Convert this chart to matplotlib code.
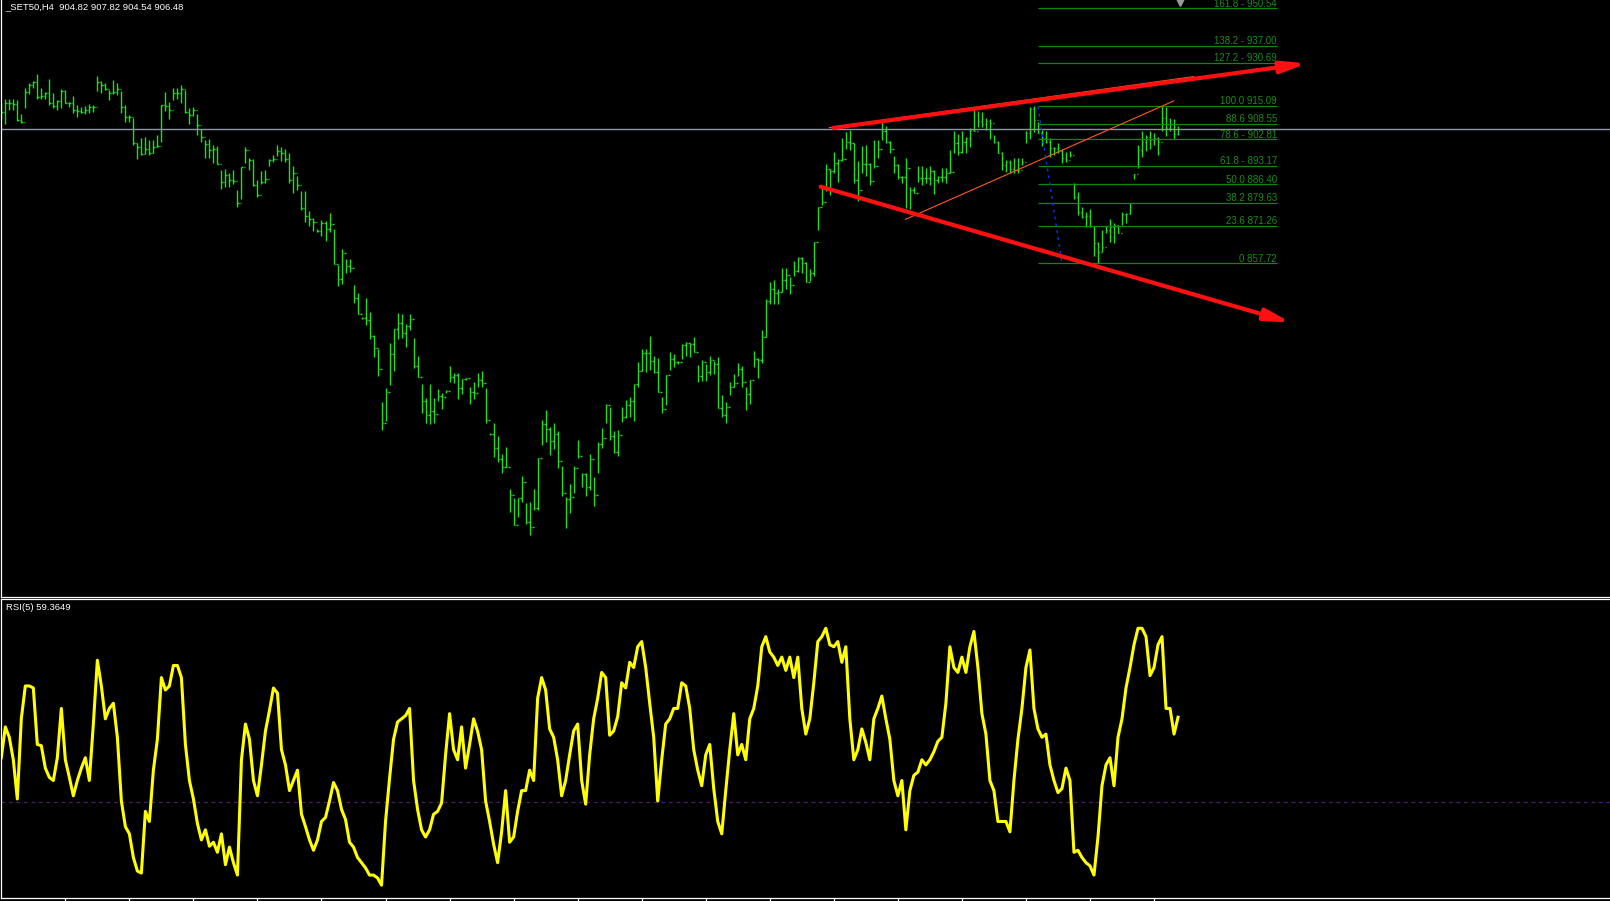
import matplotlib.pyplot as plt
import numpy as np

plt.rcParams['font.family'] = ['Liberation Sans', 'DejaVu Sans']

header_text = '_SET50,H4  904.82 907.82 904.54 906.48'
rsi_title = 'RSI(5) 59.3649'
last_open = 904.82
bid_price = 906.48

# H4 bars (oldest first)
highs = [916.2, 917.4, 917.7, 917.7, 917.1, 912.0, 921.7, 923.2, 924.1, 926.8,
         921.4, 920.2, 924.8, 919.6, 917.1, 921.0, 920.8, 916.5, 918.6, 915.2,
         914.7, 915.1, 915.6, 915.3, 926.0, 924.2, 923.2, 920.8, 924.4, 923.4,
         920.4, 915.3, 911.7, 910.5, 901.6, 903.2, 903.8, 902.6, 902.6, 904.4,
         915.3, 920.0, 916.5, 921.4, 921.4, 922.6, 920.8, 914.3, 914.7, 912.0,
         906.6, 902.6, 902.8, 900.7, 900.4, 891.6, 891.9, 890.4, 891.6, 884.4,
         892.6, 900.1, 896.1, 895.5, 888.2, 891.4, 891.6, 895.5, 897.3, 900.6,
         899.9, 899.2, 897.7, 893.1, 889.4, 884.0, 884.0, 876.7, 874.1, 870.0,
         873.5, 873.1, 875.9, 870.1, 857.1, 862.8, 859.1, 859.1, 849.8, 846.7,
         838.2, 844.9, 840.1, 831.6, 826.3, 807.0, 812.1, 828.5, 833.6, 839.5,
         839.1, 835.6, 839.1, 830.3, 823.9, 813.7, 808.5, 813.7, 808.5, 811.8,
         810.6, 811.4, 820.3, 817.8, 817.8, 815.5, 815.9, 812.5, 814.3, 817.6,
         818.5, 812.1, 795.8, 799.4, 794.8, 788.2, 790.9, 775.3, 772.3, 772.1,
         780.2, 770.5, 770.8, 775.3, 786.6, 800.6, 804.2, 797.9, 799.4, 796.6,
         783.8, 772.4, 777.3, 783.8, 793.3, 781.4, 781.2, 788.2, 779.7, 792.4,
         797.6, 806.4, 805.2, 796.6, 796.9, 805.2, 807.9, 808.9, 813.6, 821.8,
         826.3, 826.3, 831.2, 823.9, 823.1, 808.9, 817.0, 825.3, 824.6, 822.0,
         828.3, 828.9, 828.5, 831.0, 820.6, 822.5, 821.0, 823.9, 822.2, 823.4,
         809.7, 807.3, 814.6, 817.3, 821.2, 820.3, 812.5, 815.2, 825.7, 823.1,
         833.4, 844.6, 851.0, 851.6, 848.2, 855.8, 855.8, 852.6, 858.5, 860.1,
         860.1, 858.3, 855.5, 865.3, 878.1, 885.0, 893.7, 891.9, 898.3, 895.7,
         903.4, 905.4, 906.2, 901.4, 894.9, 900.4, 900.8, 894.3, 902.6, 902.6,
         910.0, 907.7, 902.3, 896.8, 893.8, 889.5, 895.9, 885.3, 885.3, 893.1,
         893.1, 892.3, 893.1, 891.7, 889.5, 892.3, 892.3, 898.9, 906.0, 904.8,
         906.0, 903.8, 906.8, 913.5, 913.3, 912.9, 910.5, 910.1, 904.4, 902.3,
         898.3, 895.3, 895.3, 895.9, 895.9, 895.9, 906.0, 914.5, 915.1, 909.3,
         906.2, 906.0, 903.2, 899.9, 901.6, 899.2, 898.3, 898.7, 886.8, 883.8,
         878.3, 876.5, 877.3, 871.3, 865.6, 869.8, 871.3, 874.0, 872.2, 871.6,
         876.5, 875.9, 879.8, 890.2, 900.8, 906.0, 904.4, 906.0, 905.0, 903.8,
         915.0, 914.7, 910.5, 910.3, 907.82]
lows = [910.3, 908.6, 913.5, 913.5, 909.6, 908.9, 914.1, 919.2, 921.7, 917.6,
        917.6, 917.6, 915.3, 914.1, 913.7, 914.1, 915.9, 914.7, 912.6, 910.8,
        912.3, 911.9, 912.5, 912.9, 920.5, 919.9, 920.8, 917.1, 919.2, 919.0,
        912.6, 909.0, 909.2, 900.7, 895.6, 897.1, 897.5, 897.1, 897.7, 900.1,
        902.0, 913.2, 910.3, 917.1, 917.4, 916.2, 912.6, 908.6, 911.3, 904.4,
        902.0, 896.2, 896.2, 894.1, 893.7, 884.6, 885.6, 885.3, 886.5, 878.3,
        881.0, 894.1, 891.6, 885.8, 881.7, 886.5, 886.8, 893.1, 894.7, 896.7,
        895.0, 894.7, 887.0, 883.4, 884.4, 877.0, 872.9, 871.4, 869.4, 869.0,
        867.8, 865.9, 869.2, 857.3, 849.5, 850.0, 854.0, 854.6, 843.1, 839.1,
        837.4, 835.2, 830.0, 823.7, 816.6, 796.9, 800.4, 813.4, 818.6, 830.1,
        830.3, 827.3, 833.4, 819.7, 816.4, 803.0, 799.6, 799.0, 799.6, 807.6,
        804.5, 810.6, 814.6, 814.2, 808.4, 809.9, 815.0, 806.3, 808.1, 812.5,
        812.7, 799.4, 795.2, 787.2, 785.4, 781.2, 783.4, 767.2, 762.3, 765.4,
        770.8, 762.7, 758.7, 767.8, 767.8, 791.5, 792.7, 787.8, 789.9, 783.2,
        773.0, 761.1, 766.8, 773.9, 786.9, 776.1, 773.0, 775.1, 769.4, 781.4,
        790.5, 799.6, 793.3, 788.7, 787.6, 800.0, 801.2, 801.6, 800.3, 812.7,
        818.4, 818.2, 818.8, 817.8, 810.9, 803.0, 806.1, 818.8, 820.0, 821.1,
        822.8, 823.9, 823.7, 825.5, 814.6, 814.8, 814.9, 817.0, 817.3, 804.8,
        801.6, 799.4, 809.7, 812.5, 816.6, 812.5, 804.2, 806.4, 820.0, 816.0,
        821.5, 830.9, 842.9, 842.7, 842.7, 847.3, 848.2, 846.4, 853.2, 854.6,
        854.3, 851.0, 851.2, 853.1, 869.8, 878.9, 884.1, 882.6, 890.7, 887.4,
        894.9, 899.3, 899.0, 887.1, 880.4, 890.7, 889.5, 886.2, 892.3, 895.9,
        902.6, 901.6, 897.7, 890.7, 888.3, 887.1, 877.7, 877.3, 883.2, 887.4,
        886.2, 886.8, 886.2, 882.9, 887.1, 887.4, 887.1, 890.7, 897.7, 897.1,
        898.0, 897.7, 900.2, 906.0, 907.2, 907.5, 906.2, 902.8, 901.4, 897.7,
        891.7, 891.1, 890.5, 890.5, 890.5, 893.5, 901.4, 902.8, 905.6, 905.0,
        900.4, 901.4, 896.5, 897.1, 898.0, 894.1, 894.7, 896.5, 881.0, 875.3,
        874.1, 871.0, 871.0, 860.3, 857.7, 861.9, 868.6, 865.6, 865.2, 868.6,
        871.6, 872.2, 875.6, 888.3, 892.3, 896.5, 898.7, 899.2, 900.8, 897.1,
        906.0, 904.0, 906.0, 903.0, 904.54]
closes = [912.9, 915.9, 915.9, 915.7, 909.8, 909.0, 920.2, 922.6, 923.6, 918.3,
          918.7, 919.6, 915.9, 915.0, 916.8, 920.5, 916.2, 916.2, 913.5, 913.2,
          912.9, 913.5, 914.7, 914.5, 923.8, 922.6, 921.0, 919.6, 920.2, 921.0,
          914.7, 911.1, 910.8, 901.4, 900.1, 897.5, 899.5, 897.7, 899.9, 900.4,
          915.3, 915.0, 913.5, 919.6, 919.6, 921.0, 912.9, 911.7, 913.7, 908.0,
          903.8, 901.1, 898.9, 899.2, 893.8, 887.4, 889.8, 888.2, 887.7, 879.7,
          892.6, 898.9, 895.3, 886.2, 882.5, 887.4, 888.4, 895.3, 895.6, 898.7,
          897.7, 895.5, 888.0, 890.4, 886.2, 878.0, 874.9, 873.7, 872.7, 869.4,
          872.2, 870.1, 871.9, 857.3, 851.8, 861.3, 856.8, 855.8, 844.9, 839.1,
          837.6, 837.0, 831.2, 826.7, 819.1, 799.4, 810.9, 824.5, 833.6, 836.1,
          832.4, 834.8, 837.3, 820.4, 816.4, 807.6, 802.4, 804.0, 802.8, 809.3,
          808.9, 811.0, 816.4, 817.0, 812.1, 815.5, 815.8, 810.9, 810.3, 815.2,
          813.9, 800.6, 795.4, 790.3, 786.3, 783.6, 783.6, 773.3, 762.3, 772.1,
          778.1, 763.6, 761.5, 768.4, 786.6, 799.0, 797.2, 793.1, 795.4, 785.7,
          773.9, 771.7, 772.7, 783.0, 787.6, 780.9, 776.1, 786.3, 773.3, 791.8,
          793.9, 806.1, 794.8, 788.8, 795.1, 801.6, 806.1, 807.6, 813.6, 818.6,
          825.0, 824.9, 822.2, 818.2, 810.9, 804.5, 817.0, 822.7, 821.8, 821.6,
          827.9, 828.5, 828.2, 825.5, 816.6, 821.6, 818.2, 822.5, 821.0, 804.8,
          802.4, 805.2, 812.5, 814.2, 819.1, 814.6, 810.1, 815.2, 822.7, 822.5,
          831.0, 844.0, 848.2, 846.7, 847.3, 851.6, 853.4, 849.8, 854.9, 859.5,
          857.9, 851.0, 854.3, 865.3, 878.1, 879.9, 891.9, 891.4, 894.3, 895.3,
          895.5, 902.0, 901.4, 888.0, 884.4, 893.9, 893.9, 887.8, 893.1, 899.2,
          906.0, 902.0, 899.2, 893.5, 889.0, 889.0, 892.3, 884.4, 883.4, 888.6,
          888.6, 888.6, 891.4, 888.0, 889.0, 889.0, 890.7, 891.1, 901.4, 898.3,
          902.0, 903.2, 906.2, 906.0, 909.6, 908.4, 909.6, 908.7, 902.0, 898.0,
          893.5, 894.7, 891.9, 891.7, 891.7, 894.7, 905.0, 913.8, 909.9, 905.3,
          903.4, 902.0, 899.6, 899.6, 898.7, 895.9, 895.3, 897.1, 882.0, 876.5,
          874.7, 874.9, 871.3, 864.9, 861.9, 863.7, 869.8, 871.0, 871.6, 868.6,
          875.6, 875.6, 879.8, 890.2, 899.0, 902.0, 903.6, 902.5, 903.2, 902.0,
          910.5, 906.9, 908.4, 904.8, 906.48]

# RSI(5) per bar
rsi = [45.3, 56.0, 52.4, 44.6, 31.0, 58.8, 70.2, 70.2, 69.5, 49.9,
       49.5, 41.7, 38.5, 37.4, 45.3, 62.4, 44.6, 38.5, 32.1, 37.4,
       41.7, 45.3, 37.4, 57.0, 79.1, 70.2, 58.8, 62.4, 64.2, 52.4,
       30.3, 21.4, 18.9, 10.7, 6.0, 5.3, 26.7, 23.2, 41.0, 51.7,
       73.1, 68.8, 70.2, 77.3, 77.3, 73.1, 49.9, 37.4, 31.0, 22.5,
       16.8, 20.3, 14.6, 16.0, 12.5, 18.9, 8.2, 14.3, 8.9, 4.6,
       44.6, 57.0, 51.7, 37.4, 32.1, 42.8, 54.6, 61.7, 69.5, 67.7,
       48.1, 42.8, 33.9, 37.4, 41.0, 25.7, 21.4, 16.8, 13.2, 16.8,
       23.2, 24.6, 30.3, 36.7, 33.9, 27.4, 23.9, 16.0, 14.3, 10.7,
       8.9, 7.1, 4.6, 4.6, 3.6, 1.1, 23.2, 38.1, 51.7, 57.7,
       58.8, 59.9, 62.4, 37.4, 27.4, 20.3, 17.8, 20.3, 25.7, 26.7,
       29.6, 46.3, 60.6, 48.1, 44.6, 56.0, 41.7, 49.9, 58.8, 54.5,
       48.1, 30.3, 23.2, 15.3, 8.9, 19.6, 33.9, 16.0, 17.8, 26.7,
       33.9, 33.9, 41.0, 37.4, 65.9, 73.1, 68.8, 55.3, 52.4, 44.6,
       32.1, 37.4, 46.3, 54.6, 57.0, 37.4, 29.2, 46.3, 58.8, 65.9,
       74.9, 73.1, 53.1, 54.6, 59.5, 71.3, 69.5, 78.4, 76.6, 83.8,
       85.6, 76.6, 64.2, 52.4, 30.3, 44.6, 57.0, 58.8, 62.4, 62.4,
       71.3, 70.2, 62.4, 48.1, 41.0, 35.6, 46.3, 49.9, 34.6, 23.2,
       18.9, 33.9, 48.1, 60.6, 46.3, 49.9, 44.6, 58.8, 62.4, 70.2,
       83.8, 87.3, 82.0, 80.2, 77.3, 80.2, 75.6, 80.2, 73.1, 80.2,
       62.4, 53.5, 58.8, 71.3, 85.6, 87.3, 90.2, 84.5, 83.8, 85.6,
       78.4, 83.8, 58.8, 44.6, 48.1, 55.3, 50.6, 44.6, 58.8, 62.4,
       66.7, 58.8, 51.7, 37.4, 32.1, 37.4, 20.3, 33.9, 39.2, 40.3,
       44.6, 42.8, 44.6, 47.4, 51.0, 52.4, 64.2, 83.8, 76.6, 74.9,
       80.2, 74.9, 83.8, 89.1, 76.6, 60.6, 53.5, 37.4, 33.9, 23.2,
       23.2, 23.2, 19.6, 37.4, 51.7, 62.4, 76.6, 82.7, 62.4, 55.3,
       52.4, 53.5, 42.8, 37.4, 33.2, 34.6, 41.7, 37.4, 12.5, 13.2,
       10.7, 8.9, 7.8, 4.6, 17.8, 35.6, 42.8, 45.3, 35.6, 52.4,
       58.8, 69.5, 76.6, 84.5, 90.2, 90.2, 87.3, 73.8, 76.6, 84.5,
       87.3, 62.4, 62.4, 53.5, 59.36]
rsi_level = 30

fib_prices = [950.54, 937.00, 930.69, 915.09, 908.55, 902.81,
              893.17, 886.40, 879.63, 871.26, 857.72]
fib_labels = ['161.8 - 950.54', '138.2 - 937.00', '127.2 - 930.69', '100.0 915.09',
              '88.6 908.55', '78.6 - 902.81', '61.8 - 893.17', '50.0 886.40',
              '38.2 879.63', '23.6 871.26', '0 857.72']
fib_start, fib_end = 258.9, 318.7

# trend objects (bar index, price)
upper_arrow = [(207.9, 907.0), (326.2, 930.5)]
lower_arrow = [(204.7, 885.6), (322.2, 836.1)]
upper_thin = [(206.9, 907.1), (297.9, 925.7)]
rising_line = [(225.9, 873.7), (292.9, 916.8)]
fib_anchor = [(259.0, 914.7), (265.0, 857.7)]

W, H = 1610, 901
fig = plt.figure(figsize=(W / 100, H / 100), dpi=100, facecolor='black')
ax = fig.add_axes([1 / W, (H - 596.5) / H, 1 - 1 / W, 596.5 / H], facecolor='black')
ax_rsi = fig.add_axes([1 / W, 3 / H, 1 - 1 / W, 299 / H], facecolor='black')

n = len(closes)
ks = np.arange(n)
opens = np.array([closes[0]] + closes[:-2] + [last_open])

x_right = (W - 2.3) / 4
for a in (ax, ax_rsi):
    a.set_xlim(-0.075, x_right)
    a.set_xticks([])
    a.set_yticks([])
    for s in a.spines.values():
        s.set_color('white')
        s.set_linewidth(0.9)
    a.spines['right'].set_visible(False)
ax.spines['top'].set_visible(False)

ax.set_ylim(953.6 - 0.3643 * 596.5, 953.6)

bar_col = '#1ee01e'
ax.vlines(ks, lows, highs, color=bar_col, lw=1.0)
ax.hlines(opens, ks - 0.35, ks, color=bar_col, lw=1.0)
ax.hlines(closes, ks, ks + 0.35, color=bar_col, lw=1.0)

ax.axhline(bid_price, color='#8a96a6', lw=1.0)

for p, lab in zip(fib_prices, fib_labels):
    ax.hlines(p, fib_start, fib_end, color='#0a8a0a', lw=0.9)
    ax.text(fib_end, p + 0.6, lab, color='#1a8a1a', fontsize=7,
            ha='right', va='baseline')

for seg in (upper_arrow, lower_arrow):
    (x0, y0), (x1, y1) = seg
    ax.annotate('', xy=(x1, y1), xytext=(x0, y0),
                arrowprops=dict(arrowstyle='-|>,head_length=1.5,head_width=0.35',
                                color='#ff1010', lw=3.0, shrinkA=0, shrinkB=0))

ax.plot(*zip(*upper_thin), color='#ff5a1e', lw=0.8)
ax.plot(*zip(*rising_line), color='#ff5a1e', lw=0.8)
ax.plot(*zip(*fib_anchor), color='#1030ff', lw=1.0, ls=(0, (2, 3)))
ax.plot([294.4], [953.0], marker='v', color='#9a9a9a', ms=6)

fig.text(5 / W, 1 - 7 / H, header_text, color='white', fontsize=6.8,
         ha='left', va='center')

# RSI window
ax_rsi.set_ylim(-3.35, 100.36)
ax_rsi.axhline(rsi_level, color='#4a1e6e', lw=0.9, ls=(0, (3, 3)))
ax_rsi.plot(ks, rsi, color='#ffff00', lw=2.2, solid_joinstyle='round')
ax_rsi.text(5 / W, 1 - 9 / 299, rsi_title, transform=ax_rsi.transAxes,
            color='white', fontsize=6.8, ha='left', va='center')
ax_rsi.set_xticks(np.arange(16, n, 16))
ax_rsi.tick_params(axis='x', direction='out', length=2.5, color='white',
                   labelbottom=False, width=0.9)

fig.savefig('out.png', dpi=100, facecolor='black')
